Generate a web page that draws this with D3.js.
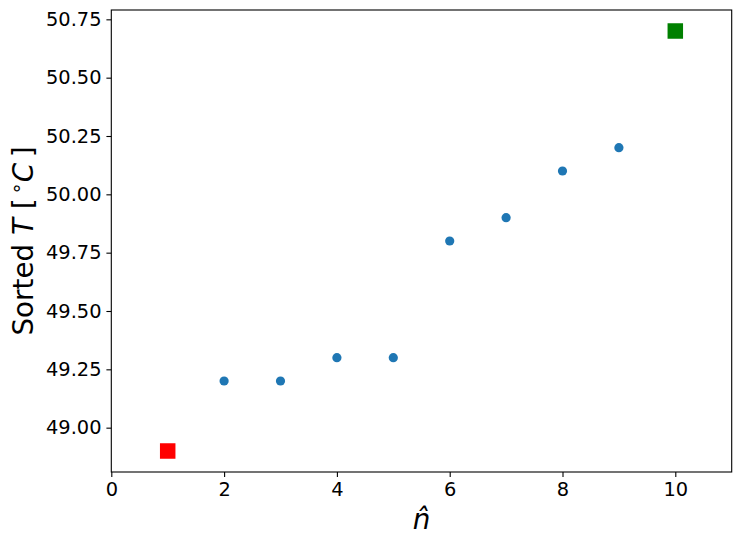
<!DOCTYPE html>
<html><head><meta charset="utf-8">
<script src="https://cdn.jsdelivr.net/npm/d3@7"></script>
<style>body{margin:0;background:#fff}svg{display:block;font-family:"DejaVu Sans",sans-serif}</style>
</head><body><svg id="c" width="741" height="547"></svg>
<script>
const nValues = [1,2,3,4,5,6,7,8,9,10];
const tValues = [48.9,49.2,49.2,49.3,49.3,49.8,49.9,50.1,50.2,50.7];
const xTicks = [0,2,4,6,8,10];
const yTicks = [49.00,49.25,49.50,49.75,50.00,50.25,50.50,50.75];

const svg = d3.select("#c");
const L=111.3, R=731.7, T=10, B=472;
const x = d3.scaleLinear().domain([0,11]).range([L,R]);
const yMin = d3.min(tValues), yMax = d3.max(tValues), pad=(yMax-yMin)*0.05;
const y = d3.scaleLinear().domain([yMin-pad,yMax+pad]).range([B,T]);

const fs = 19.4;
const xa = svg.append("g").attr("transform",`translate(0,${B})`)
  .call(d3.axisBottom(x).tickValues(xTicks).tickFormat(d3.format("d")).tickSizeOuter(0).tickSize(4.9).tickPadding(4.9));
const ya = svg.append("g").attr("transform",`translate(${L},0)`)
  .call(d3.axisLeft(y).tickValues(yTicks).tickFormat(d3.format(".2f")).tickSizeOuter(0).tickSize(4.9).tickPadding(4.9));
[xa,ya].forEach(a=>{
  a.select(".domain").remove();
  a.selectAll("line").attr("stroke","#000").attr("stroke-width",1.1);
  a.selectAll("text").attr("font-size",fs).attr("fill","#000").attr("font-family","DejaVu Sans");
});
svg.append("rect").attr("x",L).attr("y",T).attr("width",R-L).attr("height",B-T)
  .attr("fill","none").attr("stroke","#000").attr("stroke-width",1.1);

const data = nValues.map((n,i)=>({n,t:tValues[i]}));
const mid = data.slice(1,-1);
svg.append("g").selectAll("circle").data(mid).join("circle")
  .attr("cx",d=>x(d.n)).attr("cy",d=>y(d.t)).attr("r",4.6).attr("fill","#1f77b4");
const ends = [{d:data[0],c:"red"},{d:data[data.length-1],c:"green"}];
const s=15.5;
svg.append("g").selectAll("rect").data(ends).join("rect")
  .attr("x",e=>x(e.d.n)-s/2).attr("y",e=>y(e.d.t)-s/2).attr("width",s).attr("height",s).attr("fill",e=>e.c);

// x label
const xl = svg.append("text").attr("x",(L+R)/2).attr("y",529).attr("text-anchor","middle")
  .attr("font-size",27.8).attr("font-style","italic").text("n\u0302");
// y label
const yl = svg.append("text").attr("transform",`translate(33,${(T+B)/2}) rotate(-90)`)
  .attr("text-anchor","middle").attr("font-size",27.8);
yl.append("tspan").text("Sorted ");
yl.append("tspan").attr("font-style","italic").text("T");
yl.append("tspan").text(" [");
yl.append("tspan").attr("font-size",19.5).attr("dy",-10).text("\u2009\u2218");
yl.append("tspan").attr("dy",10).attr("font-style","italic").text("C");
yl.append("tspan").text("\u2009]");
</script></body></html>
